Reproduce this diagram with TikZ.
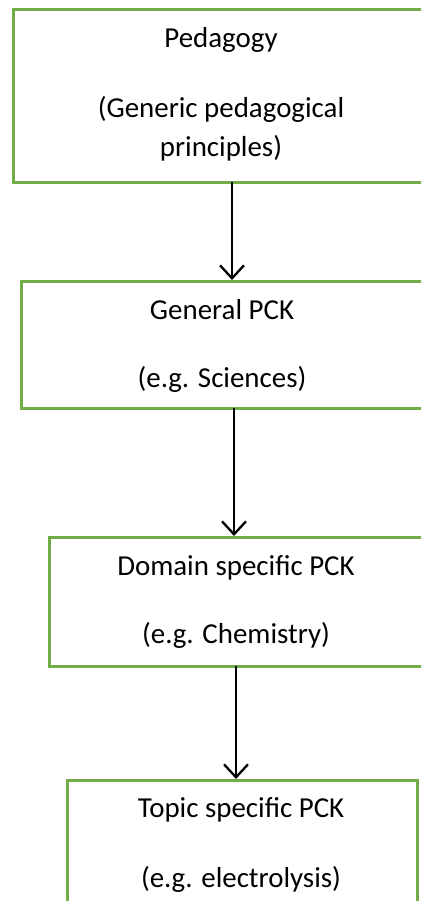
\documentclass[tikz,border=0pt]{standalone}
\usepackage{fontspec}
\setmainfont{Carlito}
\usetikzlibrary{arrows.meta}
\definecolor{boxgreen}{RGB}{112,173,71}
\begin{document}
\begin{tikzpicture}[x=1pt,y=-1pt,
  box/.style={draw=boxgreen,line width=2.8pt,rectangle,anchor=north west,inner sep=0pt},
  txt/.style={anchor=base,inner sep=0pt,font=\fontsize{28.9}{33}\selectfont},
  arr/.style={-{Straight Barb[length=13pt,width=24pt,line width=2.3pt]},line width=2.3pt}]
\useasboundingbox (0,0) rectangle (421,901);
\clip (0,0) rectangle (421,901);
\fill[white] (0,0) rectangle (421,901);
% boxes
\node[box,minimum width=418pt,minimum height=173pt] (b1) at (12,8) {};
\node[box,minimum width=405pt,minimum height=127pt] (b2) at (20,280) {};
\node[box,minimum width=376pt,minimum height=129pt] (b3) at (48,536) {};
\node[box,minimum width=350pt,minimum height=160pt] (b4) at (66,779) {};
% texts
\node[txt] (t1a) at (221,48) {Pedagogy};
\node[txt] (t1b) at (221,118) {(Generic pedagogical};
\node[txt] (t1c) at (221,157) {principles)};
\node[txt] (t2a) at (222,319) {General PCK};
\node[txt] (t2b) at (222,387) {(e.g. Sciences)};
\node[txt] (t3a) at (236,575) {Domain specific PCK};
\node[txt] (t3b) at (236,643) {(e.g. Chemistry)};
\node[txt] (t4a) at (241,817) {Topic specific PCK};
\node[txt] (t4b) at (241,887) {(e.g. electrolysis)};
% arrows
\coordinate (a1s) at (232,182);
\coordinate (a2s) at (234,408);
\coordinate (a3s) at (236,666);
\draw[arr] (a1s) -- (a1s |- b2.north);
\draw[arr] (a2s) -- (a2s |- b3.north);
\draw[arr] (a3s) -- (a3s |- b4.north);
\end{tikzpicture}
\end{document}
